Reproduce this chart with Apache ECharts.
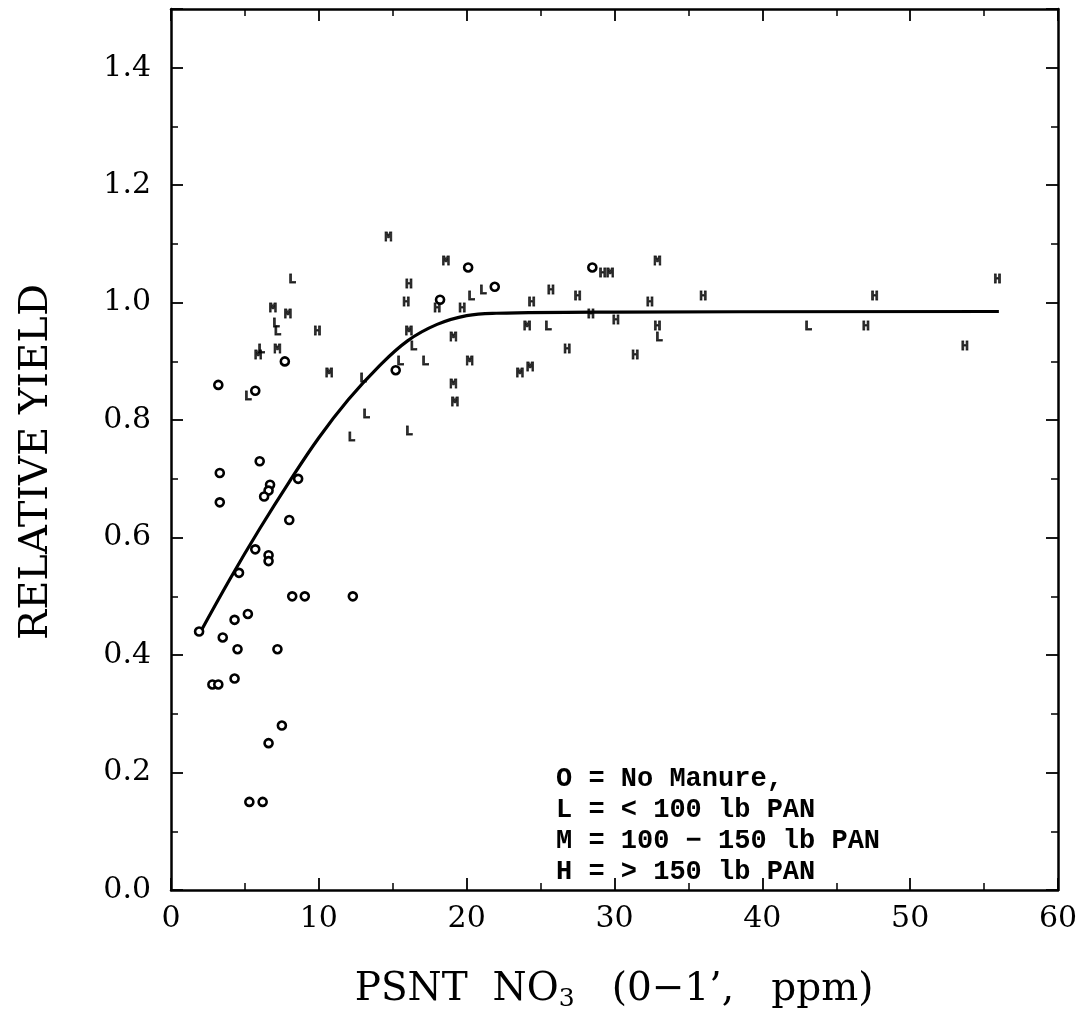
<!DOCTYPE html>
<html><head><meta charset="utf-8">
<script src="https://cdn.jsdelivr.net/npm/echarts@6/dist/echarts.min.js"></script>
<style>html,body{margin:0;padding:0;background:#fff}#c{width:1083px;height:1022px}</style>
</head><body><div id="c"></div>
<script>
// O = No Manure
const noManure = [[1.9,0.44],[3.2,0.86],[3.3,0.71],[3.3,0.66],[6.0,0.73],[8.6,0.70],[6.7,0.69],[6.6,0.68],[6.3,0.67],
  [8.0,0.63],[5.7,0.58],[6.6,0.57],[6.6,0.56],[4.6,0.54],[8.2,0.50],[9.05,0.50],[12.3,0.50],[5.2,0.47],[4.3,0.46],
  [3.5,0.43],[4.5,0.41],[7.2,0.41],[2.8,0.35],[3.2,0.35],[4.3,0.36],[7.5,0.28],[6.6,0.25],[5.3,0.15],[6.2,0.15],
  [7.7,0.90],[5.7,0.85],[20.1,1.06],[18.2,1.005],[21.9,1.027],[28.5,1.06],[15.2,0.885]];
// L = < 100 lb PAN
const lowPAN = [[8.2,1.04],[7.1,0.965],[7.2,0.95],[6.1,0.92],[5.2,0.84],[20.3,1.01],[21.1,1.02],[16.4,0.925],
  [15.5,0.90],[17.2,0.90],[13.0,0.87],[13.2,0.81],[16.1,0.78],[12.2,0.77],[25.5,0.96],[33.0,0.94],[43.1,0.96]];
// M = 100 - 150 lb PAN
const medPAN = [[6.9,0.99],[7.9,0.98],[5.9,0.91],[7.2,0.92],[10.7,0.88],[14.7,1.11],[18.6,1.07],[16.1,0.95],
  [19.1,0.94],[20.2,0.90],[19.1,0.86],[19.2,0.83],[29.7,1.05],[32.9,1.07],[24.1,0.96],[23.6,0.88],[24.3,0.89]];
// H = > 150 lb PAN
const highPAN = [[9.9,0.95],[16.1,1.03],[15.9,1.00],[18.0,0.99],[19.7,0.99],[29.2,1.05],[25.7,1.02],[27.5,1.01],
  [24.4,1.00],[32.4,1.00],[28.4,0.98],[30.1,0.97],[32.9,0.96],[26.8,0.92],[31.4,0.91],[36.0,1.01],[47.6,1.01],
  [55.9,1.04],[47.0,0.96],[53.7,0.925]];
// fitted response curve
const curve = [[1.9,0.435],[4,0.53],[6,0.615],[8,0.695],[10,0.77],[12,0.835],[14,0.89],[16,0.935],[18,0.963],
  [20,0.978],[22,0.982],[30,0.984],[56,0.985]];
const xTicks = [0,10,20,30,40,50,60];
const yTicks = [0.0,0.2,0.4,0.6,0.8,1.0,1.2,1.4];
const legendLines = ['O = No Manure,','L = < 100 lb PAN','M = 100 \u2212 150 lb PAN','H = > 150 lb PAN'];

const serif = '"DejaVu Serif", "Liberation Serif", serif';
const chart = echarts.init(document.getElementById('c'));
function letterSeries(name, data, letter){
  return {type:'scatter', name, data, symbol:'rect', symbolSize:1, itemStyle:{color:'rgba(0,0,0,0)'},
    label:{show:true, position:'inside', formatter:letter, color:'#000', fontSize:13, fontWeight:'bold',
      textBorderColor:'#000', textBorderWidth:0.8,
      fontFamily:'"DejaVu Sans Mono", "Liberation Mono", monospace'}, z:3};
}
function axis(extra){
  return Object.assign({
    type:'value',
    axisLine:{show:true, onZero:false, lineStyle:{color:'#000', width:2.5}},
    axisTick:{show:true, inside:true, length:12, lineStyle:{color:'#000', width:1.8}},
    minorTick:{show:true, splitNumber:2, length:7, lineStyle:{color:'#000', width:1.5}},
    splitLine:{show:false}
  }, extra);
}
chart.setOption({
  animation:false,
  backgroundColor:'#fff',
  grid:{left:171, right:25, top:9, bottom:132},
  xAxis:[
    axis({min:xTicks[0], max:xTicks[xTicks.length-1], interval:10, position:'bottom',
      axisLabel:{color:'#000', fontSize:30, fontFamily:serif, margin:14}}),
    axis({min:xTicks[0], max:xTicks[xTicks.length-1], interval:10, position:'top', axisLabel:{show:false}})
  ],
  yAxis:[
    axis({min:0, max:1.5, interval:0.2, position:'left',
      axisLabel:{color:'#000', fontSize:30, fontFamily:serif, margin:20, showMaxLabel:false,
        formatter:v=> yTicks.some(t=>Math.abs(t-v)<1e-6) ? v.toFixed(1) : ''}}),
    axis({min:0, max:1.5, interval:0.2, position:'right', axisLabel:{show:false}})
  ],
  series:[
    {type:'line', data:curve, smooth:0.4, showSymbol:false, lineStyle:{color:'#000', width:3.2}, z:2},
    {type:'scatter', name:'O', data:noManure, symbol:'circle', symbolSize:8,
      itemStyle:{color:'#fff', borderColor:'#000', borderWidth:2.6, opacity:1}, z:3},
    letterSeries('L', lowPAN, 'L'),
    letterSeries('M', medPAN, 'M'),
    letterSeries('H', highPAN, 'H')
  ],
  graphic:[
    {type:'text', left:556, top:764, style:{text:legendLines.join('\n'), fill:'#000', lineHeight:31,
      font:'bold 27px "Liberation Mono", "DejaVu Sans Mono", monospace'}},
    {type:'text', x:37, y:462, rotation:Math.PI/2, style:{text:'RELATIVE YIELD', fill:'#000',
      font:'40px '+serif, align:'center', verticalAlign:'middle'}},
    {type:'text', x:614, y:990, style:{
      rich:{n:{font:'39px '+serif, fill:'#000'}, s:{font:'25px '+serif, fill:'#000', padding:[18,0,0,0]}},
      text:'{n|PSNT  NO}{s|3}{n|   (0\u22121\u2019,   ppm)}', align:'center', verticalAlign:'middle'}}
  ]
});
</script></body></html>
